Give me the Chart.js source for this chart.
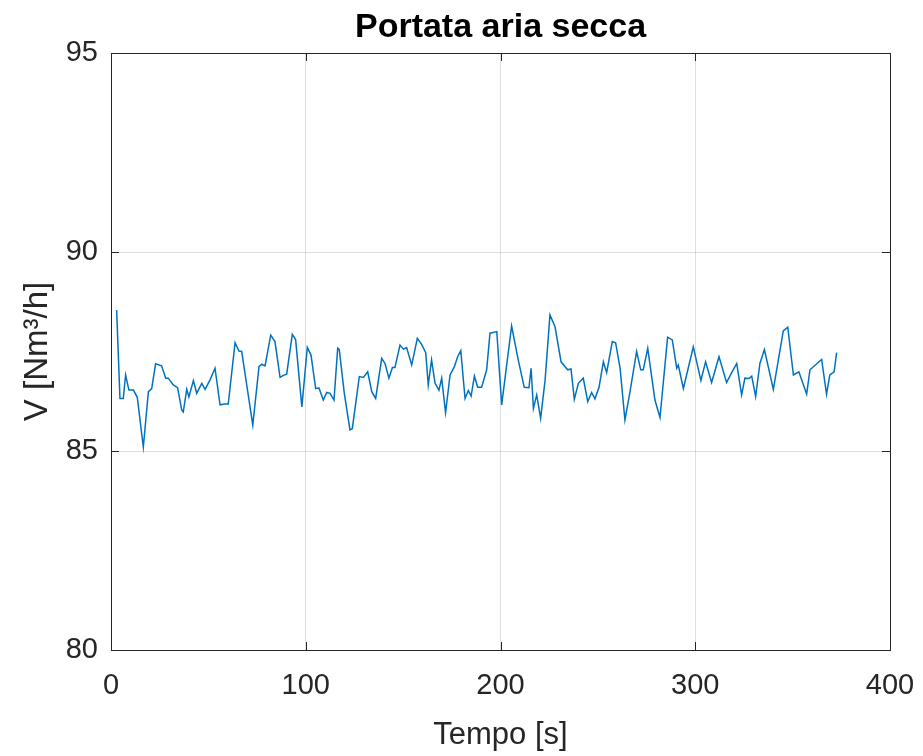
<!DOCTYPE html>
<html>
<head>
<meta charset="utf-8">
<script src="https://cdn.jsdelivr.net/npm/chart.js@4"></script>
<style>
  html, body { margin: 0; padding: 0; background: #fff; }
  #wrap { width: 923px; height: 756px; }
</style>
</head>
<body>
<div id="wrap"><canvas id="myChart"></canvas></div>
<script>
const tempo = [2.9, 4.6, 6.3, 7.5, 9.2, 11.5, 13.5, 16.6, 19.2, 20.9,
  22.9, 26, 28.1, 29.4, 32, 34.2, 36.3, 37.1, 38.9, 40,
  42.3, 44, 46.6, 48.3, 50.8, 53.4, 56, 58.2, 60.2, 63.7,
  65.7, 67.1, 72.8, 76, 77.4, 79.1, 82, 84.2, 86.8, 88.5,
  90.2, 93.1, 94.8, 98, 100.8, 102.7, 105.1, 106.8, 109, 110.8,
  112.5, 114.5, 116.4, 117.2, 119.8, 122.7, 123.9, 127.5, 129.6, 131.8,
  133.9, 135.9, 139, 140.7, 142.7, 144.5, 145.8, 148.4, 150.1, 151.8,
  154.4, 157.3, 159.5, 161.6, 162.9, 164.6, 166.4, 168.4, 169.8, 171.8,
  174.1, 176.3, 178, 179.6, 181.8, 183.5, 184.9, 186.6, 188.3, 190.3,
  192.9, 194.6, 198.1, 200.6, 205.7, 209.1, 212.2, 214.6, 215.7, 216.9,
  218.6, 220.6, 222.9, 225.4, 228, 231.1, 234.5, 236.2, 237.9, 240,
  242.5, 244.8, 246.8, 248.5, 250.6, 252.8, 254.5, 257.4, 259.1, 261.4,
  263.9, 266.5, 269.9, 272, 273.3, 275.6, 279.3, 281.9, 285.8, 288.2,
  290.5, 291.3, 293.9, 299, 302.9, 305.3, 308.4, 312.2, 316.1, 318.7,
  321.3, 323.8, 325.5, 327.6, 329, 331, 333.2, 335.5, 340.1, 345.2,
  347.5, 350.4, 353.2, 357.2, 358.9, 364.9, 367.4, 369.1, 371.3, 372.6];

const portata = [88.54, 86.32, 86.32, 86.91, 86.53, 86.53, 86.35, 85.1, 86.49, 86.57,
  87.19, 87.14, 86.83, 86.83, 86.66, 86.59, 86.03, 85.98, 86.55, 86.36,
  86.77, 86.45, 86.70, 86.55, 86.78, 87.08, 86.16, 86.18, 86.18, 87.72,
  87.51, 87.5, 85.65, 87.12, 87.18, 87.14, 87.91, 87.75, 86.85, 86.9,
  86.93, 87.93, 87.8, 86.11, 87.6, 87.41, 86.57, 86.58, 86.28, 86.47,
  86.45, 86.28, 87.58, 87.55, 86.45, 85.53, 85.56, 86.87, 86.85, 86.99,
  86.49, 86.32, 87.33, 87.2, 86.83, 87.1, 87.1, 87.66, 87.56, 87.6,
  87.16, 87.83, 87.68, 87.47, 86.66, 87.29, 86.70, 86.53, 86.83, 85.96,
  86.91, 87.12, 87.37, 87.52, 86.32, 86.52, 86.38, 86.88, 86.6, 86.6,
  87.04, 87.96, 88.0, 86.16, 88.14, 87.29, 86.6, 86.59, 87.08, 86.07,
  86.41, 85.82, 86.78, 88.42, 88.12, 87.24, 87.04, 87.06, 86.3, 86.70,
  86.83, 86.24, 86.47, 86.31, 86.6, 87.24, 86.97, 87.75, 87.72, 87.08,
  85.78, 86.49, 87.5, 87.04, 87.04, 87.58, 86.28, 85.84, 87.86, 87.79,
  87.08, 87.16, 86.57, 87.62, 86.77, 87.24, 86.72, 87.37, 86.72, 86.97,
  87.2, 86.41, 86.83, 86.82, 86.88, 86.37, 87.2, 87.55, 86.55, 88.02,
  88.11, 86.91, 86.99, 86.43, 87.04, 87.3, 86.43, 86.91, 86.99, 87.47];

const xTicks = [0, 100, 200, 300, 400];
const yTicks = [80, 85, 90, 95];

const ink = '#262626';
const font = 'Arial, "Liberation Sans", Helvetica, sans-serif';

// box round the plot with inward tick marks, like MATLAB
const boxPlugin = {
  id: 'box',
  afterDraw(chart) {
    const { ctx, chartArea: a, scales } = chart;
    ctx.save();
    ctx.strokeStyle = ink;
    ctx.lineWidth = 1;
    ctx.strokeRect(a.left + 0.5, a.top + 0.5, a.right - a.left, a.bottom - a.top);
    const len = 8;
    ctx.beginPath();
    xTicks.forEach(v => {
      const x = Math.round(scales.x.getPixelForValue(v)) + 0.5;
      ctx.moveTo(x, a.bottom); ctx.lineTo(x, a.bottom - len);
      ctx.moveTo(x, a.top); ctx.lineTo(x, a.top + len);
    });
    yTicks.forEach(v => {
      const y = Math.round(scales.y.getPixelForValue(v)) + 0.5;
      ctx.moveTo(a.left, y); ctx.lineTo(a.left + len, y);
      ctx.moveTo(a.right, y); ctx.lineTo(a.right - len, y);
    });
    ctx.stroke();
    ctx.restore();
  }
};

new Chart(document.getElementById('myChart').getContext('2d'), {
  type: 'line',
  data: {
    datasets: [{
      data: tempo.map((t, i) => ({ x: t, y: portata[i] })),
      borderColor: '#0072BD',
      borderWidth: 1.5,
      pointRadius: 0,
      tension: 0,
      fill: false
    }]
  },
  options: {
    responsive: true,
    maintainAspectRatio: false,
    animation: false,
    layout: { padding: { left: 0, right: 33, top: 0, bottom: 0 } },
    plugins: {
      legend: { display: false },
      tooltip: { enabled: false },
      title: {
        display: true,
        fullSize: false,
        text: 'Portata aria secca',
        color: '#000',
        font: { family: font, size: 34, weight: 'bold', lineHeight: 1.2 },
        padding: { top: 7, bottom: 5.2 }
      }
    },
    scales: {
      x: {
        type: 'linear',
        min: 0, max: 400,
        afterBuildTicks: s => { s.ticks = xTicks.map(v => ({ value: v })); },
        afterFit: s => { s.height = 106; s.paddingLeft = 0; s.paddingRight = 0; },
        grid: { color: 'rgba(38,38,38,0.15)', drawTicks: false },
        border: { display: false },
        ticks: { color: ink, font: { family: font, size: 29 }, padding: 19, maxRotation: 0 },
        title: {
          display: true, text: 'Tempo [s]', color: ink,
          font: { family: font, size: 31 }, padding: { top: 4, bottom: 2 }
        }
      },
      y: {
        min: 80, max: 95,
        afterBuildTicks: s => { s.ticks = yTicks.map(v => ({ value: v })); },
        afterFit: s => { s.width = 111; s.paddingTop = 0; s.paddingBottom = 0; },
        grid: { color: 'rgba(38,38,38,0.15)', drawTicks: false },
        border: { display: false },
        ticks: { color: ink, font: { family: font, size: 29 }, padding: 13 },
        title: {
          display: true, text: 'V [Nm³/h]', color: ink,
          font: { family: font, size: 33 }, padding: { top: 18, bottom: 0 }
        }
      }
    }
  },
  plugins: [boxPlugin]
});
</script>
</body>
</html>
